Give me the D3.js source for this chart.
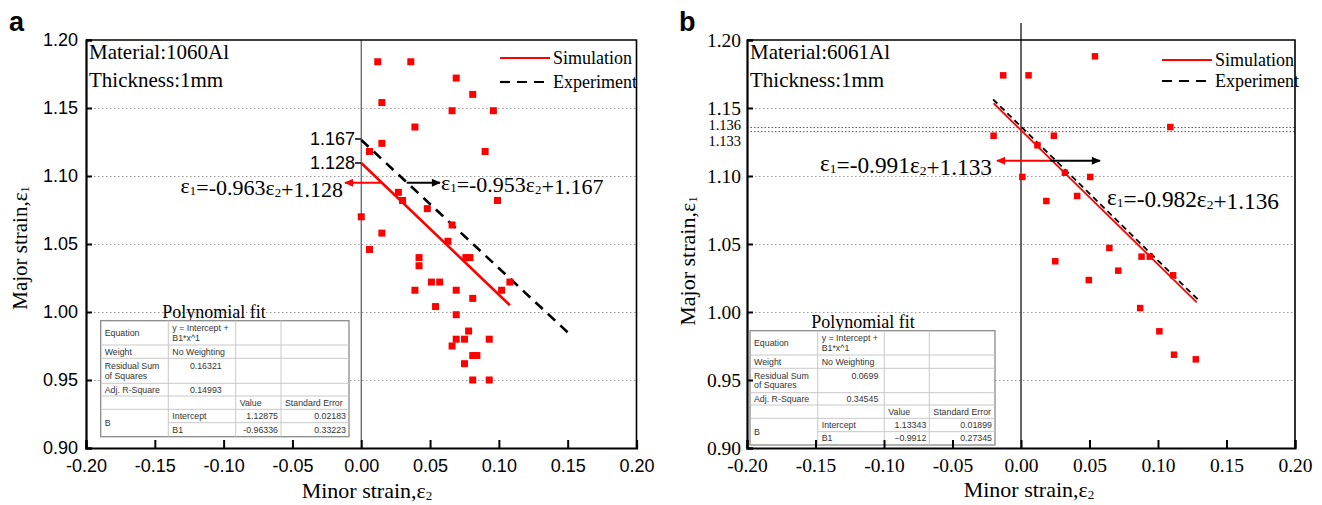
<!DOCTYPE html>
<html><head><meta charset="utf-8">
<script src="https://cdn.jsdelivr.net/npm/d3@7"></script>
<style>body{margin:0;background:#fff}svg{display:block}</style>
</head><body>
<svg id="c" width="1322" height="505"></svg>
<script>
// ---------- data ----------
const xTicks = [-0.2,-0.15,-0.1,-0.05,0,0.05,0.1,0.15,0.2];
const yTicks = [0.9,0.95,1.0,1.05,1.1,1.15,1.2];
const gridY = [0.95,1.0,1.05,1.1,1.15];
const extraYB = [1.133,1.136];

const minorA = [0.012,0.036,0.069,0.081,0.015,0.066,0.096,0.039,0.015,0.006,0.090,0.027,0.030,0.048,0.099,0.000,0.066,0.015,0.063,0.006,0.042,0.076,0.079,0.042,0.051,0.057,0.108,0.039,0.069,0.102,0.081,0.054,0.069,0.078,0.069,0.075,0.093,0.066,0.081,0.084,0.075,0.081,0.093];
const majorA = [1.184,1.184,1.172,1.160,1.154,1.148,1.148,1.136,1.124,1.118,1.118,1.088,1.082,1.076,1.082,1.070,1.064,1.058,1.052,1.046,1.040,1.040,1.040,1.034,1.022,1.022,1.022,1.016,1.016,1.016,1.010,1.004,0.998,0.986,0.980,0.980,0.980,0.975,0.968,0.968,0.962,0.950,0.950];

const minorB = [0.054,-0.013,0.0055,0.109,-0.020,0.024,0.012,0.001,0.0505,0.032,0.0185,0.041,0.0645,0.025,0.088,0.094,0.071,0.0495,0.111,0.087,0.101,0.1117,0.1276];
const majorB = [1.188,1.174,1.174,1.136,1.1296,1.1296,1.1226,1.0993,1.0993,1.1024,1.0816,1.0853,1.0471,1.0373,1.0407,1.0407,1.0304,1.0235,1.0270,1.0029,0.9858,0.9686,0.9652];

const simA_x = [0, 0.108],      simA_y = [1.1096, 1.005];
const expA_x = [0, 0.1505],     expA_y = [1.1265, 0.9846];
const simB_x = [-0.020, 0.1283], simB_y = [1.1535, 1.0071];
const expB_x = [-0.0204, 0.1295], expB_y = [1.1564, 1.0088];

const eqA = ["ε_1=-0.963ε_2+1.128", "ε_1=-0.953ε_2+1.167"];
const eqB = ["ε_1=-0.991ε_2+1.133", "ε_1=-0.982ε_2+1.136"];
const interceptLabelsA = ["1.167", "1.128"];
const materialA = ["Material:1060Al", "Thickness:1mm"];
const materialB = ["Material:6061Al", "Thickness:1mm"];
const legendLabels = ["Simulation", "Experiment"];

const tableA = [
  ["Equation", "y = Intercept +|B1*x^1", "", ""],
  ["Weight", "No Weighting", "", ""],
  ["Residual Sum|of Squares", "0.16321", "", ""],
  ["Adj. R-Square", "0.14993", "", ""],
  ["", "", "Value", "Standard Error"],
  ["B", "Intercept", "1.12875", "0.02183"],
  ["", "B1", "-0.96336", "0.33223"]
];
const tableB = [
  ["Equation", "y = Intercept +|B1*x^1", "", ""],
  ["Weight", "No Weighting", "", ""],
  ["Residual Sum|of Squares", "0.0699", "", ""],
  ["Adj. R-Square", "0.34545", "", ""],
  ["", "", "Value", "Standard Error"],
  ["B", "Intercept", "1.13343", "0.01899"],
  ["", "B1", "\u22120.9912", "0.27345"]
];

// ---------- drawing ----------
const svg = d3.select("#c");
const SERIF = "'Liberation Serif','Times New Roman',serif";
const SANS = "'Liberation Sans',Arial,sans-serif";

const defs = svg.append("defs");
[["arrRed","#ff0000"],["arrBlk","#000"]].forEach(([id,c])=>{
  defs.append("marker").attr("id",id).attr("viewBox","0 0 10 10").attr("refX",9).attr("refY",5)
    .attr("markerWidth",12).attr("markerHeight",9).attr("markerUnits","userSpaceOnUse").attr("orient","auto")
    .append("path").attr("d","M0,0.5 L10,5 L0,9.5 Z").attr("fill",c);
});

function eqText(g, x, y, anchor, str, size) {
  const t = g.append("text").attr("x",x).attr("y",y).attr("text-anchor",anchor)
    .style("font-family",SERIF).attr("font-size",size).attr("fill","#000");
  const parts = str.split(/_(\d)/);
  parts.forEach((p,i)=>{
    if (i%2===1) {
      t.append("tspan").attr("font-size",size*0.58).attr("dy",2).text(p);
      t.append("tspan").attr("dy",-2).text("");
    } else if (p) t.append("tspan").text(p);
  });
  return t;
}

function fmt(d){ return d3.format(".2f")(d).replace("\u2212","-"); }

function panel(o) {
  const x = d3.scaleLinear().domain([-0.2,0.2]).range([o.left,o.right]);
  const y = d3.scaleLinear().domain([0.9,1.2]).range([448,40]);
  const W = o.right-o.left;
  const g = svg.append("g");

  // grid
  g.append("g").attr("transform",`translate(${o.left},0)`)
    .call(d3.axisLeft(y).tickValues(gridY).tickSize(-W).tickFormat(""))
    .call(s=>{s.select(".domain").remove();
      s.selectAll("line").attr("stroke","#9a9a9a").attr("stroke-width",1).attr("stroke-dasharray","1.5,2.5");});
  if (o.extra) {
    g.append("g").attr("transform",`translate(${o.left},0)`)
      .call(d3.axisLeft(y).tickValues(o.extra).tickSize(-W).tickFormat(""))
      .call(s=>{s.select(".domain").remove();
        s.selectAll("line").attr("stroke","#555").attr("stroke-width",1).attr("stroke-dasharray","1.5,2");});
  }

  // zero line
  g.append("line").attr("x1",x(0)).attr("x2",x(0)).attr("y1",o.zeroTop).attr("y2",448)
    .attr("stroke",o.zeroColor).attr("stroke-width",o.zeroW);

  // text labels
  o.material.forEach((s,i)=>g.append("text").attr("x",o.left+3).attr("y",59+i*28)
    .style("font-family",SERIF).attr("font-size",21).text(s));

  // table
  const tb = o.table, tg = g.append("g");
  tg.append("text").attr("x",o.tblTitle[0]).attr("y",o.tblTitle[1]).attr("text-anchor","middle")
    .style("font-family",SERIF).attr("font-size",18).text("Polynomial fit");
  const cx = o.tblCols, ry = o.tblRows;
  tg.append("rect").attr("x",cx[0]).attr("y",ry[0]).attr("width",cx[4]-cx[0]).attr("height",ry[7]-ry[0])
    .attr("fill","#fff").attr("stroke","#8a8a8a").attr("stroke-width",1.3);
  for (let r=1;r<7;r++) tg.append("line").attr("x1",r===6?cx[1]:cx[0]).attr("x2",cx[4]).attr("y1",ry[r]).attr("y2",ry[r])
    .attr("stroke","#c8c8c8").attr("stroke-width",1);
  for (let c=1;c<4;c++) tg.append("line").attr("x1",cx[c]).attr("x2",cx[c]).attr("y1",ry[0]).attr("y2",ry[7])
    .attr("stroke","#c8c8c8").attr("stroke-width",1);
  tb.forEach((row,r)=>{
    row.forEach((cell,c)=>{
      if (!cell) return;
      const lines = cell.split("|");
      const isNum = /^[-\u22120-9.]+$/.test(cell);
      let top = ry[r], bot = (r===5 && c===0) ? ry[7] : ry[r+1];
      let anchor = "start", tx = cx[c]+4;
      if (isNum) { anchor="end"; tx = cx[c+1] - (c===1 ? o.numPad : 3); }
      const multi = lines.length>1 || (r===2);
      lines.forEach((ln,k)=>{
        let cy;
        if (lines.length>1) cy = (top+bot)/2 + (k-0.5)*9.5;
        else if (multi) cy = (top+bot)/2 - 4.5;
        else cy = (top+bot)/2;
        tg.append("text").attr("x",tx).attr("y",cy).attr("dy","0.35em").attr("text-anchor",anchor)
          .style("font-family",SANS).attr("font-size",8.8).attr("fill","#333").text(ln);
      });
    });
  });

  // fit lines
  const line = d3.line().x(d=>x(d[0])).y(d=>y(d[1]));
  g.append("path").attr("d",line(d3.zip(o.expX,o.expY))).attr("stroke","#000").attr("fill","none")
    .attr("stroke-width",o.lw).attr("stroke-dasharray",o.dash);
  g.append("path").attr("d",line(d3.zip(o.simX,o.simY))).attr("stroke","#ff0000").attr("fill","none")
    .attr("stroke-width",o.lw);

  // points
  g.selectAll("rect.pt").data(d3.zip(o.px,o.py)).join("rect").attr("class","pt")
    .attr("x",d=>x(d[0])-o.ms/2).attr("y",d=>y(d[1])-o.ms/2).attr("width",o.ms).attr("height",o.ms)
    .attr("fill","#ff0000");

  // arrows + equations
  const ay = o.arrowY;
  g.append("line").attr("x1",o.arrowMid[0]).attr("x2",o.redTip).attr("y1",ay).attr("y2",ay)
    .attr("stroke","#ff0000").attr("stroke-width",2).attr("marker-end","url(#arrRed)");
  g.append("line").attr("x1",o.arrowMid[1]).attr("x2",o.blkTip).attr("y1",ay).attr("y2",ay)
    .attr("stroke","#000").attr("stroke-width",2).attr("marker-end","url(#arrBlk)");
  eqText(g, o.eqPos[0][0], o.eqPos[0][1], "end", o.eq[0], o.eqSize);
  eqText(g, o.eqPos[1][0], o.eqPos[1][1], "start", o.eq[1], o.eqSize);

  // legend
  const lx = o.legX;
  [0,1].forEach(i=>{
    const ly = o.legY[i];
    g.append("line").attr("x1",lx).attr("x2",lx+50).attr("y1",ly).attr("y2",ly)
      .attr("stroke",i===0?"#ff0000":"#000").attr("stroke-width",2.2)
      .attr("stroke-dasharray",i===0?null:"10,7");
    g.append("text").attr("x",lx+53).attr("y",ly).attr("dy","0.33em").style("font-family",SERIF)
      .attr("font-size",18).text(legendLabels[i]);
  });

  // frame
  g.append("path").attr("d",`M${o.left},40H${o.right}V448`).attr("fill","none").attr("stroke","#000").attr("stroke-width",1.6);

  // axes
  const ax = g.append("g").attr("transform","translate(0,448)")
    .call(d3.axisBottom(x).tickValues(xTicks).tickSize(-8).tickPadding(o.xPad).tickFormat(fmt));
  const ayx = g.append("g").attr("transform",`translate(${o.left},0)`)
    .call(d3.axisLeft(y).tickValues(yTicks).tickSize(-6).tickPadding(o.yPad).tickFormat(fmt));
  [ax,ayx].forEach(a=>{
    a.attr("font-family",null).attr("font-size",null);
    a.select(".domain").attr("stroke","#000").attr("stroke-width",2.2);
    a.selectAll(".tick line").attr("stroke","#000").attr("stroke-width",2);
    a.selectAll("text").style("font-family",o.tickFont).style("font-size",o.tickSize+"px").attr("fill","#000");
  });
  if (o.extra) {
    const ex = g.append("g").attr("transform",`translate(${o.left},0)`)
      .call(d3.axisLeft(y).tickValues(o.extra).tickSize(0).tickPadding(o.yPad).tickFormat(d3.format(".3f")));
    ex.attr("font-family",null).attr("font-size",null);
    ex.select(".domain").remove();
    ex.selectAll("text").style("font-family",o.tickFont).style("font-size","14.5px").attr("fill","#000")
      .attr("dy",d=>d===1.136?"2px":"14px");
  }

  // axis titles
  const xt = g.append("text").attr("x",o.xTitleX).attr("y",o.xTitleY).attr("text-anchor","middle")
    .style("font-family",SERIF).attr("font-size",22);
  xt.append("tspan").text("Minor strain,ε");
  xt.append("tspan").attr("font-size",13).attr("dy",2).text("2");
  const yt = g.append("text").attr("transform",`translate(${o.yTitle[0]},${o.yTitle[1]}) rotate(-90)`).attr("text-anchor","middle")
    .style("font-family",SERIF).attr("font-size",o.yTitle[2]);
  yt.append("tspan").text("Major strain,ε");
  yt.append("tspan").attr("font-size",o.yTitle[2]*0.6).attr("dy",2).text("1");

  // panel letter
  g.append("text").attr("x",o.letter[1]).attr("y",31).style("font-family",SANS).attr("font-weight","bold")
    .attr("font-size",27).text(o.letter[0]);

  return {g,x,y};
}

const A = panel({
  left:86, right:636.5, zeroTop:40, zeroColor:"#555", zeroW:1.2,
  material: materialA, table: tableA, tblTitle:[214,318],
  tblCols:[100.7,168.3,235.7,281,349], tblRows:[320.7,345,358.3,383.3,396,409.3,422.7,436.7], numPad:14,
  simX:simA_x, simY:simA_y, expX:expA_x, expY:expA_y, lw:2.6, dash:"10,7",
  px:minorA, py:majorA, ms:7,
  arrowY:182.7, arrowMid:[381.7,406.7], redTip:345, blkTip:440,
  eq:eqA, eqPos:[[343,193],[441,190]], eqSize:22,
  legX:500, legY:[58,82],
  tickFont:SANS, tickSize:18, yPad:8, xPad:11,
  xTitleX:367, xTitleY:498, yTitle:[27,248,21], letter:["a",9]
});
// intercept labels for panel a
interceptLabelsA.forEach((s,i)=>{
  const yy = [139,163][i];
  A.g.append("text").attr("x",355).attr("y",yy).attr("dy","0.35em").attr("text-anchor","end")
    .style("font-family",SANS).attr("font-size",18).text(s);
  A.g.append("line").attr("x1",355).attr("x2",361).attr("y1",yy).attr("y2",yy).attr("stroke","#000").attr("stroke-width",1.5);
});

const B = panel({
  left:747, right:1295, zeroTop:23, zeroColor:"#666", zeroW:2, extra: extraYB,
  material: materialB, table: tableB, tblTitle:[863,328],
  tblCols:[750,817.7,884.3,929.3,995], tblRows:[330.7,355,368.3,392.7,405,418.3,431.7,445], numPad:6,
  simX:simB_x, simY:simB_y, expX:expB_x, expY:expB_y, lw:1.8, dash:"6,4",
  px:minorB, py:majorB, ms:6.5,
  arrowY:160.7, arrowMid:[1050,1050], redTip:997, blkTip:1100,
  eq:eqB, eqPos:[[992,171],[1107,205]], eqSize:23.3,
  legX:1162, legY:[60,81],
  tickFont:SERIF, tickSize:19.5, yPad:6, xPad:10,
  xTitleX:1029, xTitleY:497, yTitle:[695,261,22], letter:["b",679]
});
</script>
</body></html>
